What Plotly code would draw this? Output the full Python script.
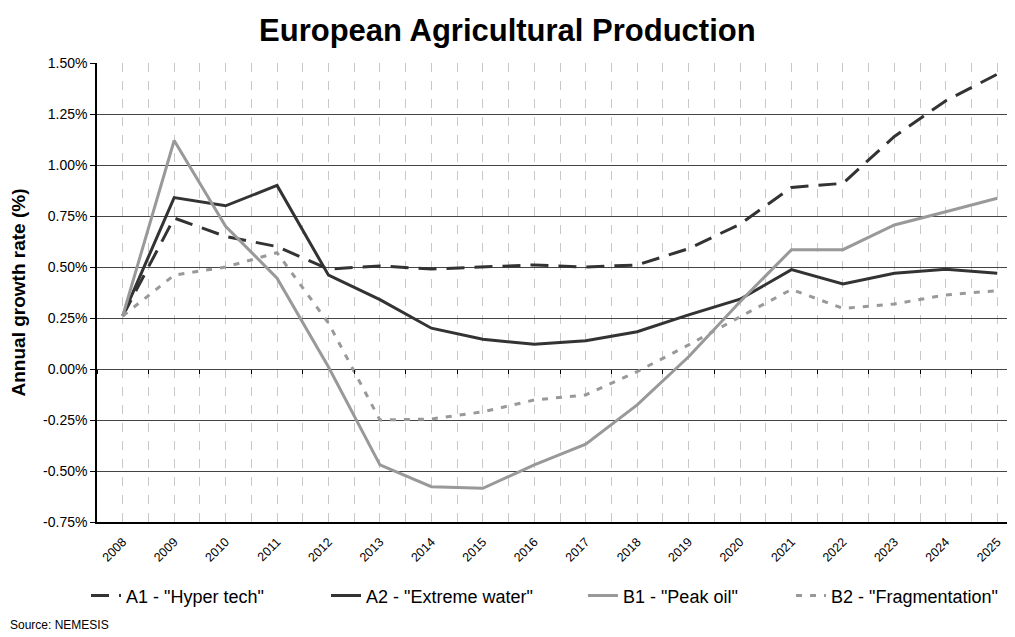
import plotly.graph_objs as pg

anios = ['2008', '2009', '2010', '2011', '2012', '2013', '2014', '2015', '2016',
         '2017', '2018', '2019', '2020', '2021', '2022', '2023', '2024', '2025']

a1_hyper_tech = [0.26, 0.74, 0.65, 0.60, 0.49, 0.505, 0.49, 0.50, 0.51,
                 0.50, 0.51, 0.59, 0.71, 0.89, 0.91, 1.14, 1.315, 1.445]
a2_extreme_water = [0.26, 0.84, 0.80, 0.90, 0.46, 0.34, 0.20, 0.146, 0.121,
                    0.139, 0.183, 0.265, 0.342, 0.487, 0.417, 0.469, 0.489, 0.469]
b1_peak_oil = [0.26, 1.12, 0.70, 0.445, 0.01, -0.47, -0.577, -0.585, -0.47,
               -0.368, -0.176, 0.06, 0.33, 0.585, 0.585, 0.706, 0.771, 0.837]
b2_fragmentation = [0.26, 0.46, 0.50, 0.57, 0.225, -0.25, -0.245, -0.21, -0.152,
                    -0.127, -0.013, 0.118, 0.256, 0.39, 0.297, 0.319, 0.363, 0.384]

series = [
    ('A1 - "Hyper tech"', a1_hyper_tech, '#333333', '18px,10px', 'legend', -0.0119),
    ('A2 - "Extreme water"', a2_extreme_water, '#333333', 'solid', 'legend2', 0.2473),
    ('B1 - "Peak oil"', b1_peak_oil, '#999999', 'solid', 'legend3', 0.5248),
    ('B2 - "Fragmentation"', b2_fragmentation, '#999999', '6px,8px', 'legend4', 0.7495),
]

y_ticks = [-0.75, -0.5, -0.25, 0.0, 0.25, 0.5, 0.75, 1.0, 1.25, 1.5]

posiciones = list(range(len(anios)))
medios = [i + 0.5 for i in range(-1, len(anios))]

fuente = 'Liberation Sans, Arial, sans-serif'

fig = pg.Figure()
leyendas = {}
for nombre, valores, color, dash, leyenda, x_leyenda in series:
    fig.add_trace(pg.Scatter(x=posiciones, y=valores, name=nombre, mode='lines',
                             legend=leyenda,
                             line=dict(color=color, width=3, dash=dash)))
    # una leyenda por serie para poder colocar cada entrada como en el original
    leyendas[leyenda] = dict(orientation='h', x=x_leyenda, xanchor='left', y=-0.161,
                             yanchor='middle', font=dict(size=18, family=fuente),
                             bgcolor='rgba(0,0,0,0)')

# eje auxiliar en el cero, solo para las marcas entre categorias
fig.add_trace(pg.Scatter(x=[0], y=[0], xaxis='x2', mode='markers',
                         marker=dict(opacity=0), showlegend=False, hoverinfo='skip'))

# la pagina deja 8px de margen en el body, se compensa aqui
fig.update_layout(
    width=1015, height=637,
    margin=dict(l=89, r=0, t=55, b=123, autoexpand=False),
    paper_bgcolor='white', plot_bgcolor='white',
    font=dict(family=fuente, color='black', size=12),
    title=dict(text='<b>European Agricultural Production</b>', x=0.492, xanchor='center',
               y=0.966, yanchor='middle', font=dict(size=31, family=fuente)),
    showlegend=True,
    **leyendas,
    xaxis=dict(range=[-0.5, 17.5], tickmode='array', tickvals=posiciones, ticktext=anios,
               tickangle=-45, tickfont=dict(size=12.5), ticks='outside', ticklen=6,
               tickcolor='rgba(0,0,0,0)', showline=True, automargin=False,
               linecolor='black', linewidth=1.5, mirror=False, zeroline=False,
               showgrid=True, gridcolor='#c8c8c8', griddash='dash', gridwidth=1,
               minor=dict(tickmode='array', tickvals=medios, showgrid=True,
                          gridcolor='#c8c8c8', griddash='dash', gridwidth=1)),
    xaxis2=dict(overlaying='x', anchor='free', position=1 / 3, range=[-0.5, 17.5],
                tickmode='array', tickvals=medios, ticks='outside', ticklen=4,
                tickcolor='black', showticklabels=False, showline=False,
                showgrid=False, zeroline=False, side='bottom', automargin=False),
    yaxis=dict(range=[-0.75, 1.5], tickmode='array', tickvals=y_ticks,
               ticktext=['{:.2f}%'.format(v) for v in y_ticks], ticks='outside',
               ticklen=5, tickcolor='black', showline=True, linecolor='black',
               linewidth=1.5, showgrid=True, gridcolor='#444444', gridwidth=1,
               zeroline=False, tickfont=dict(size=14), automargin=False,
               title=dict(text='<b>Annual growth rate (%)</b>', font=dict(size=19),
                          standoff=14)),
    annotations=[dict(text='Source: NEMESIS', xref='paper', yref='paper',
                      x=-0.0961, y=-0.2244, xanchor='left', yanchor='middle',
                      showarrow=False, font=dict(size=12, family=fuente))],
)

fig.write_html('out.html')
